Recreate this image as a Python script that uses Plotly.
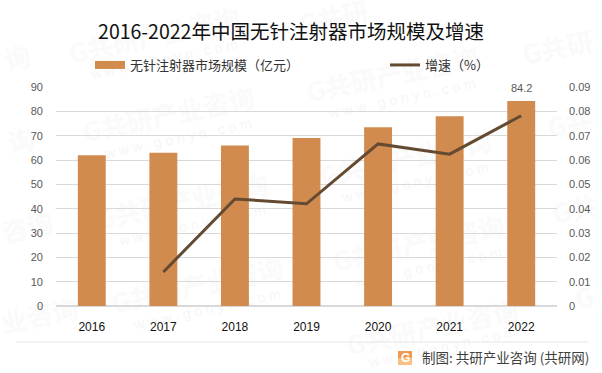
import plotly.graph_objects as go

years = ["2016", "2017", "2018", "2019", "2020", "2021", "2022"]
market_size = [62, 63, 66, 69, 73.5, 78, 84.2]
growth = [None, 0.014, 0.044, 0.042, 0.0666, 0.0624, 0.0782]
left_ticks = [0, 10, 20, 30, 40, 50, 60, 70, 80, 90]
right_ticks = [0, 0.01, 0.02, 0.03, 0.04, 0.05, 0.06, 0.07, 0.08, 0.09]
right_tick_text = ["0", "0.01", "0.02", "0.03", "0.04", "0.05", "0.06", "0.07", "0.08", "0.09"]
bar_name = "无针注射器市场规模（亿元）"
line_name = "增速（%）"
source_text = "制图: 共研产业咨询 (共研网)"
wm_full = "G共研产业咨询"
wm_site = "w w w . g o n y n . c o m"

W, H = 602, 373
L, R, T, B = 56, 45, 87, 67
FONT = "Noto Sans CJK SC"
LAT = "Liberation Sans, Noto Sans CJK SC"
ORANGE = "#D18B4F"
BROWN = "#654A32"


def px(x):
    return (x - L) / (W - L - R)


def py(y):
    return 1 - (y - T) / (H - T - B)


fig = go.Figure()
fig.add_trace(go.Bar(
    x=years, y=market_size, name=bar_name, showlegend=False,
    marker=dict(color=ORANGE, line_width=0), width=0.39,
))
fig.add_trace(go.Scatter(
    x=years, y=growth, name=line_name, yaxis="y2", mode="lines", legend="legend2",
    line=dict(color=BROWN, width=3),
))
# legend key of the bars: a wide flat swatch
fig.add_trace(go.Scatter(
    x=[years[0]], y=[None], name=bar_name, mode="lines", legend="legend",
    line=dict(color=ORANGE, width=8),
))

shapes = []


def watermark(cx, cy, text, size=26, color="#FAFAFA", bold=True):
    label = f"<b>{text}</b>" if bold else text
    shapes.append(dict(
        type="rect", xref="paper", yref="paper", layer="below",
        x0=px(cx - 2), x1=px(cx + 2), y0=py(cy + 2), y1=py(cy - 2),
        line_width=0, fillcolor="rgba(0,0,0,0)",
        label=dict(text=label, textangle=-12, textposition="middle center",
                   font=dict(size=size, family=FONT if bold else LAT, color=color)),
    ))


for cx, cy in [(155, 38), (169, 117), (183, 204), (198, 288),
               (393, 77), (406, 161), (419, 246), (433, 330)]:
    watermark(cx, cy, wm_full)
    dy = 16 if cy == 330 else 20
    watermark(cx + 9, cy + dy, wm_site, size=14, color="#F6F6F6", bold=False)

for cx, cy, t in [(334, 20, "G共研"), (558, 50, "G共研"), (570, 126, "G共"), (575, 212, "G共"),
                  (585, 300, "G"), (18, 60, "询"), (22, 143, "询"), (28, 230, "咨询"), (40, 318, "业咨询")]:
    watermark(cx, cy, t)

shapes += [
    dict(type="line", xref="paper", yref="paper", x0=px(16), x1=px(588), y0=py(342), y1=py(342),
         line=dict(color="#E6E6E6", width=1)),
    dict(type="rect", xref="paper", yref="paper", x0=px(398), x1=px(412), y0=py(351), y1=py(358),
         fillcolor="#F29A52", line_width=0),
    dict(type="rect", xref="paper", yref="paper", x0=px(398), x1=px(412), y0=py(358), y1=py(365),
         fillcolor="#F9C083", line_width=0),
]

annotations = [
    dict(x=len(years) - 1, y=market_size[-1], xref="x", yref="y", showarrow=False, yanchor="bottom",
         yshift=5, text=str(market_size[-1]), font=dict(size=11, family=LAT, color="#595959")),
    dict(x=px(420), y=py(357), xref="paper", yref="paper", showarrow=False,
         xanchor="left", yanchor="middle", text=source_text,
         font=dict(size=13.5, family=FONT, color="#404040")),
    dict(x=px(405), y=py(358), xref="paper", yref="paper", showarrow=False,
         xanchor="center", yanchor="middle",
         text="<b>G</b>", font=dict(size=12, family=LAT, color="white")),
]

legend_font = dict(size=13, family=FONT, color="#333333")

fig.update_layout(
    width=W, height=H, margin=dict(l=L, r=R, t=T, b=B, autoexpand=False), autosize=False,
    paper_bgcolor="white", plot_bgcolor="rgba(0,0,0,0)",
    bargap=0.61, showlegend=True,
    title=dict(text="2016-2022年中国无针注射器市场规模及增速", x=291 / W, xanchor="center",
               y=1 - 32 / H, yanchor="middle", font=dict(size=19.5, family=FONT, color="#111111")),
    legend=dict(x=px(90), xanchor="left", y=py(65), yanchor="middle", itemwidth=30,
                font=legend_font, bgcolor="rgba(0,0,0,0)"),
    legend2=dict(x=px(385), xanchor="left", y=py(65), yanchor="middle", itemwidth=30,
                 font=legend_font, bgcolor="rgba(0,0,0,0)"),
    xaxis=dict(type="category", categoryorder="array", categoryarray=years, range=[-0.5, len(years) - 0.5],
               showgrid=False, zeroline=False, ticks="", ticklabelstandoff=12,
               showline=False, tickfont=dict(size=12, family=LAT, color="#111111")),
    yaxis=dict(range=[0, 90], tickvals=left_ticks, showgrid=True, gridcolor="#D9D9D9", gridwidth=1,
               zeroline=True, zerolinecolor="#D9D9D9", ticks="", showline=False, ticklabelstandoff=12,
               tickfont=dict(size=11, family=LAT, color="#595959")),
    yaxis2=dict(range=[0, 0.09], overlaying="y", side="right", tickvals=right_ticks,
                ticktext=right_tick_text, showgrid=False, zeroline=False, ticks="", showline=False,
                ticklabelstandoff=11, tickfont=dict(size=11, family=LAT, color="#595959")),
    annotations=annotations, shapes=shapes,
)
fig.write_html("out.html", post_script="document.body.style.margin='0';",
               config={"displayModeBar": False})
